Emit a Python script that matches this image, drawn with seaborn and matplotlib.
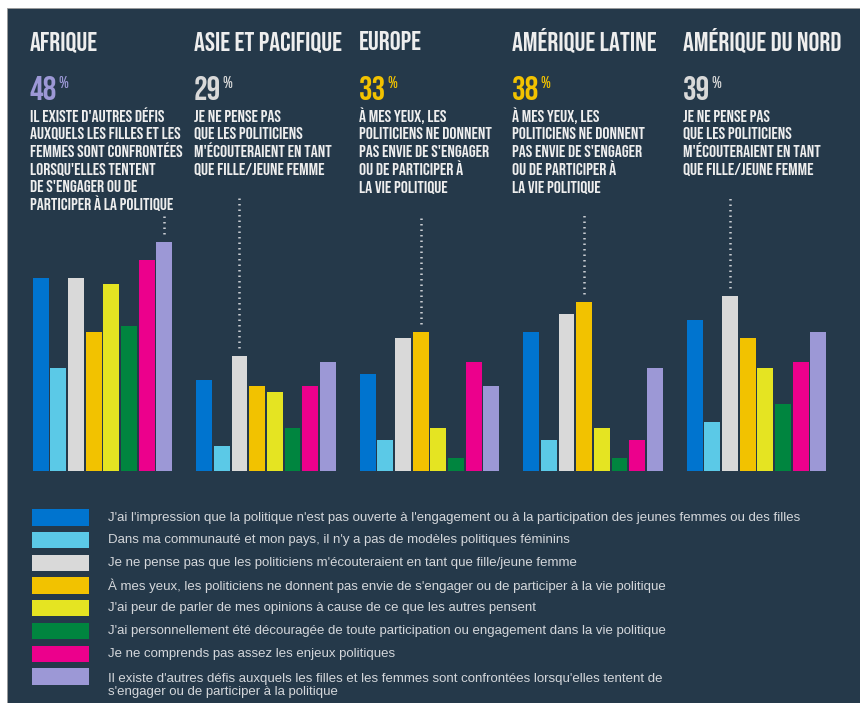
import matplotlib

matplotlib.use("Agg")
import matplotlib.pyplot as plt
import pandas as pd
import seaborn as sns
from matplotlib import font_manager
from matplotlib.patches import Rectangle

# --- data -----------------------------------------------------------------
regions = ["AFRIQUE", "ASIE ET PACIFIQUE", "EUROPE", "AMÉRIQUE LATINE", "AMÉRIQUE DU NORD"]

reasons = [
    "J'ai l'impression que la politique n'est pas ouverte à l'engagement ou à la participation des jeunes femmes ou des filles",
    "Dans ma communauté et mon pays, il n'y a pas de modèles politiques féminins",
    "Je ne pense pas que les politiciens m'écouteraient en tant que fille/jeune femme",
    "À mes yeux, les politiciens ne donnent pas envie de s'engager ou de participer à la vie politique",
    "J'ai peur de parler de mes opinions à cause de ce que les autres pensent",
    "J'ai personnellement été découragée de toute participation ou engagement dans la vie politique",
    "Je ne comprends pas assez les enjeux politiques",
    "Il existe d'autres défis auxquels les filles et les femmes sont confrontées lorsqu'elles tentent de\ns'engager ou de participer à la politique",
]
reason_colors = ["#0074cf", "#5bc9e7", "#d9d9d9", "#f2c200", "#e5e422", "#00853f", "#ec008c", "#9c98d6"]

# % per region, in the order of `regions`
pas_ouverte = [42, 25, 26, 33, 35]
pas_modeles = [27, 14, 15, 15, 18]
pas_ecoute = [42, 29, 32, 36, 39]
pas_envie = [33, 24, 33, 38, 32]
peur_opinions = [41, 23, 17, 17, 27]
decouragee = [34, 17, 12, 12, 21]
pas_comprendre = [45, 24, 28, 15, 28]
autres_defis = [48, 28, 24, 27, 33]
series = [pas_ouverte, pas_modeles, pas_ecoute, pas_envie,
          peur_opinions, decouragee, pas_comprendre, autres_defis]

# main reason highlighted per region (index into reasons)
top_reason = [7, 2, 3, 3, 2]

caption_ecoute = ["JE NE PENSE PAS", "QUE LES POLITICIENS",
                  "M'ÉCOUTERAIENT EN TANT", "QUE FILLE/JEUNE FEMME"]
caption_envie = ["À MES YEUX, LES", "POLITICIENS NE DONNENT",
                 "PAS ENVIE DE S'ENGAGER", "OU DE PARTICIPER À", "LA VIE POLITIQUE"]
caption_defis = ["IL EXISTE D'AUTRES DÉFIS", "AUXQUELS LES FILLES ET LES",
                 "FEMMES SONT CONFRONTÉES", "LORSQU'ELLES TENTENT",
                 "DE S'ENGAGER OU DE", "PARTICIPER À LA POLITIQUE"]
captions = [caption_defis, caption_ecoute, caption_envie, caption_envie, caption_ecoute]

rows = []
for reason, vals in zip(reasons, series):
    for region, v in zip(regions, vals):
        rows.append({"region": region, "reason": reason, "value": v})
df = pd.DataFrame(rows)

# --- layout ---------------------------------------------------------------
W, H = 860, 703
BG = "#25394a"
TXT = "#eeeeee"

# condensed display face for the headings; shrink if only DejaVu is around
_names = {f.name for f in font_manager.fontManager.ttflist}
if "Bebas Neue" in _names:
    DISPLAY, DW, SCALE = ["Bebas Neue", "DejaVu Sans"], "normal", 1.0
elif "Oswald" in _names:
    DISPLAY, DW, SCALE = ["Oswald", "DejaVu Sans"], "bold", 0.8
else:
    DISPLAY, DW, SCALE = ["Liberation Sans Narrow", "DejaVu Sans"], "bold", 0.62


def fx(px):
    return px / W


def fy(py):
    return 1 - py / H


sns.set_theme(style="white")
plt.rcParams["font.family"] = ["Liberation Sans", "DejaVu Sans"]

fig = plt.figure(figsize=(W / 100, H / 100), dpi=100, facecolor="white")
fig.patches.append(Rectangle((fx(7), 0), 1 - fx(7), fy(8), transform=fig.transFigure,
                             facecolor=BG, edgecolor="#9a9a9a", linewidth=0.6, zorder=-5))

y_lo, y_hi = 9.8, 50
base_px, px_per = 470.7, 6.0
ax = fig.add_axes([fx(20.75), fy(base_px), fx(817.5), (y_hi - y_lo) * px_per / H])
ax.set_facecolor("none")

sns.barplot(data=df, x="region", y="value", hue="reason", order=regions,
            hue_order=reasons, palette=reason_colors, width=0.865, gap=0.1,
            saturation=1, linewidth=0, legend=False, ax=ax)
ax.set_ylim(y_lo, y_hi)
ax.set_xlim(-0.5, len(regions) - 0.5)
ax.axis("off")

# --- headers, big percentages, captions, dotted leaders -------------------
head_x = [30, 194, 359, 512, 683]
dot_top_px = [214, 197, 215, 215, 197]
renderer = fig.canvas.get_renderer()
inv = ax.transData.inverted()

for i, region in enumerate(regions):
    x0 = head_x[i]
    fig.text(fx(x0), fy(50), region, ha="left", va="baseline", color=TXT,
             fontsize=19.5 * SCALE, fontweight=DW, family=DISPLAY)

    k = top_reason[i]
    val = series[k][i]
    num = fig.text(fx(x0), fy(100), f"{val}", ha="left", va="baseline",
                   color=reason_colors[k], fontsize=24.5 * SCALE, fontweight=DW, family=DISPLAY)
    bb = num.get_window_extent(renderer)
    fig.text(bb.x1 / W + fx(1), fy(76), "%", ha="left", va="top",
             color=reason_colors[k], fontsize=12 * SCALE, fontweight=DW, family=DISPLAY)

    for j, line in enumerate(captions[i]):
        fig.text(fx(x0), fy(121.7 + j * 17.7), line, ha="left", va="baseline",
                 color=TXT, fontsize=12.6 * SCALE, fontweight=DW, family=DISPLAY)

    bar = ax.containers[k][i]
    bx = bar.get_x() + bar.get_width() / 2
    top_data = inv.transform(fig.transFigure.transform((0, fy(dot_top_px[i]))))[1]
    ax.plot([bx, bx], [bar.get_height() + 1.3, top_data], color="#c9cdd2",
            linewidth=1.8, linestyle=(0, (0.6, 1.6)), solid_capstyle="butt",
            clip_on=False)

# --- legend ---------------------------------------------------------------
for k, (reason, color) in enumerate(zip(reasons, reason_colors)):
    top = 509.3 + k * 22.7
    fig.patches.append(Rectangle((fx(31.7), fy(top + 16.3)), fx(57.6), 16.3 / H,
                                 transform=fig.transFigure, facecolor=color,
                                 edgecolor="none", zorder=2))
    lines = reason.split("\n")
    for j, line in enumerate(lines):
        yc = top + 8.2 + j * 13.3 + (2.5 if len(lines) > 1 else 0)
        fig.text(fx(108), fy(yc), line, ha="left", va="center",
                 color="#d4d7db", fontsize=9.55)

fig.savefig("out.png", dpi=100, facecolor="white")
plt.close(fig)
